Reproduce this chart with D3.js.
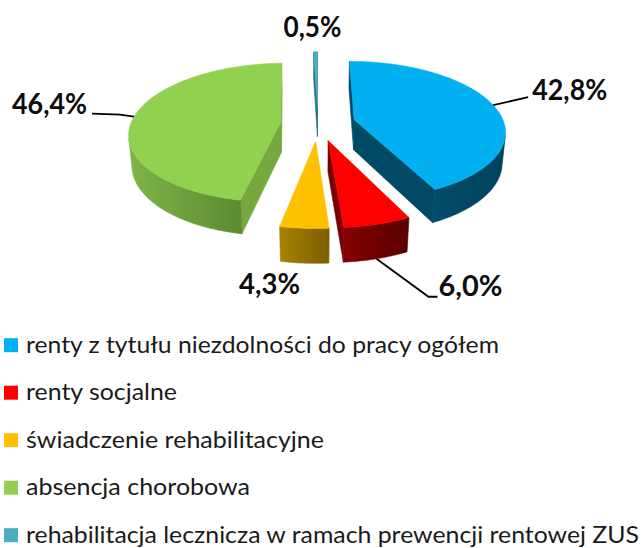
<!DOCTYPE html>
<html><head><meta charset="utf-8">
<script src="https://cdn.jsdelivr.net/npm/d3@7"></script>
<style>html,body{margin:0;padding:0;background:#fff;} svg{display:block}</style>
</head><body>
<svg id="chart" width="642" height="548"></svg>
<script>
// ---- data ----
const categories = [
  "renty z tytułu niezdolności do pracy ogółem",
  "renty socjalne",
  "świadczenie rehabilitacyjne",
  "absencja chorobowa",
  "rehabilitacja lecznicza w ramach prewencji rentowej ZUS"
];
const values = [42.8, 6.0, 4.3, 46.4, 0.5];
const valueLabels = ["42,8%", "6,0%", "4,3%", "46,4%", "0,5%"];

// ---- styles ----
const topColors  = ["#00B0F0", "#FF0000", "#FFC000", "#92D050", "#4BACC6"];
const sideLight  = ["#004d6b", "#840000", "#a88200", "#80b44a", "#2f7d92"];
const sideDark   = ["#00425c", "#5a0000", "#7c5e00", "#5c8a30", "#236274"];
const cutColors  = ["#004a66", "#7a0000", "#8c6b00", "#76a83f", "#2a7185"];

// ---- geometry ----
const R = 150, H = 34.5, EXPL = 37.4, SINA = 0.455, COSA = Math.sqrt(1 - SINA * SINA), D = 885, CX = 318, CY = 123.5;
function proj(X, Z, Y) {
  const w = Z * COSA + Y * SINA;
  const s = D / (D - w);
  return [CX + s * X, CY + s * (Z * SINA - Y * COSA)];
}
const cam = [0, D * SINA, D * COSA]; // X, Y, Z

const svg = d3.select("#chart");
const defs = svg.append("defs");
const gPie = svg.append("g");
const line = d3.line();

const arcs = d3.pie().sort(null).value(d => d)(values);

const slices = arcs.map((a, i) => {
  const mid = (a.startAngle + a.endAngle) / 2;
  const ox = EXPL * Math.sin(mid), oz = -EXPL * Math.cos(mid);
  return {i, a, mid, ox, oz};
});

function visible(n, P) {
  return n[0] * (cam[0] - P[0]) + n[1] * (cam[1] - P[1]) + n[2] * (cam[2] - P[2]) > 0;
}

slices.slice().sort((p, q) => p.oz - q.oz).forEach(sl => {
  const {i, a, ox, oz} = sl;
  const rim = (t, Y) => proj(ox + R * Math.sin(t), oz - R * Math.cos(t), Y);
  const apex = Y => proj(ox, oz, Y);
  const n = Math.max(2, Math.ceil((a.endAngle - a.startAngle) / (Math.PI / 240)));
  const ts = d3.range(n + 1).map(k => a.startAngle + (a.endAngle - a.startAngle) * k / n);
  const g = gPie.append("g");

  // cut faces
  const faces = [
    {t: a.startAngle, nrm: [-Math.cos(a.startAngle), 0, -Math.sin(a.startAngle)]},
    {t: a.endAngle, nrm: [Math.cos(a.endAngle), 0, Math.sin(a.endAngle)]}
  ];
  faces.forEach(f => {
    if (visible(f.nrm, [ox, -H / 2, oz])) {
      g.append("path")
        .attr("d", line([apex(0), rim(f.t, 0), rim(f.t, -H), apex(-H)]) + "Z")
        .attr("fill", cutColors[i]).attr("stroke", cutColors[i]).attr("stroke-width", 0.6)
        .attr("stroke-linejoin", "round");
    }
  });

  // outer side (visible strip range)
  const vis = [];
  for (let k = 0; k < n; k++) {
    const t = (ts[k] + ts[k + 1]) / 2;
    const P = [ox + R * Math.sin(t), -H / 2, oz - R * Math.cos(t)];
    if (visible([Math.sin(t), 0, -Math.cos(t)], P)) vis.push(k);
  }
  if (vis.length) {
    const k0 = vis[0], k1 = vis[vis.length - 1] + 1;
    const topPts = d3.range(k0, k1 + 1).map(k => rim(ts[k], 0));
    const botPts = d3.range(k1, k0 - 1, -1).map(k => rim(ts[k], -H));
    const gid = "side" + i;
    const grad = defs.append("linearGradient").attr("id", gid)
      .attr("x1", "0").attr("y1", "0").attr("x2", "1").attr("y2", "0");
    grad.append("stop").attr("offset", "0").attr("stop-color", sideLight[i]);
    grad.append("stop").attr("offset", "1").attr("stop-color", sideDark[i]);
    g.append("path")
      .attr("d", line(topPts.concat(botPts)) + "Z")
      .attr("fill", `url(#${gid})`).attr("stroke", `url(#${gid})`).attr("stroke-width", 0.6)
      .attr("stroke-linejoin", "round");
  }

  // top face
  g.append("path")
    .attr("d", line([apex(0)].concat(ts.map(t => rim(t, 0)))) + "Z")
    .attr("fill", topColors[i]).attr("stroke", topColors[i]).attr("stroke-width", 0.5)
    .attr("stroke-linejoin", "round");

  sl.rimTop = rim(sl.mid, 0);
  sl.rimBot = rim(sl.mid, -H);
});

// ---- data labels ----
const labelLayout = [
  {base: "top", dx: 39, dy: -5, anchor: "start", w: 75, leader: [[35, -8]]},
  {base: "bot", dx: 62, dy: 37, anchor: "start", w: 64, leader: [[52, 38], [61, 38]]},
  {base: "bot", dx: -35, dy: 31, anchor: "middle", w: 61, leader: null},
  {base: "top", dx: -47, dy: -3, anchor: "end", w: 75, leader: [[-14, -2], [-42, -3]]},
  {base: "top", dx: -3, dy: -15, anchor: "middle", w: 58, leader: null}
];
const gLab = svg.append("g");
slices.forEach(sl => {
  const L = labelLayout[sl.i];
  const p = L.base === "top" ? sl.rimTop : sl.rimBot;
  if (L.leader) {
    gLab.append("path")
      .attr("d", line([p].concat(L.leader.map(o => [p[0] + o[0], p[1] + o[1]]))))
      .attr("fill", "none").attr("stroke", "#000").attr("stroke-width", 1.8);
  }
  gLab.append("text")
    .attr("x", p[0] + L.dx).attr("y", p[1] + L.dy)
    .attr("text-anchor", L.anchor)
    .attr("font-family", "Lato, 'Open Sans', sans-serif")
    .attr("font-weight", "bold").attr("font-size", 28.5)
    .attr("fill", "#0d0d0d")
    .attr("textLength", L.w).attr("lengthAdjust", "spacingAndGlyphs")
    .text(valueLabels[sl.i]);
});

// ---- legend ----
const legendWidths = [473, 151, 298, 224, 613];
const yLeg = d3.scaleLinear().domain([0, 1]).range([352.7, 400.2]);
const gLeg = svg.append("g");
const items = gLeg.selectAll("g").data(categories).join("g")
  .attr("transform", (d, i) => `translate(0,${yLeg(i)})`);
items.append("rect").attr("x", 4).attr("y", -14.5).attr("width", 14).attr("height", 14)
  .attr("fill", (d, i) => topColors[i]);
items.append("text").attr("x", 26).attr("y", 0)
  .attr("font-family", "Lato, 'Open Sans', sans-serif")
  .attr("font-size", 23.5).attr("fill", "#1a1a1a")
  .attr("textLength", (d, i) => legendWidths[i]).attr("lengthAdjust", "spacingAndGlyphs")
  .text(d => d);
</script>
</body></html>
